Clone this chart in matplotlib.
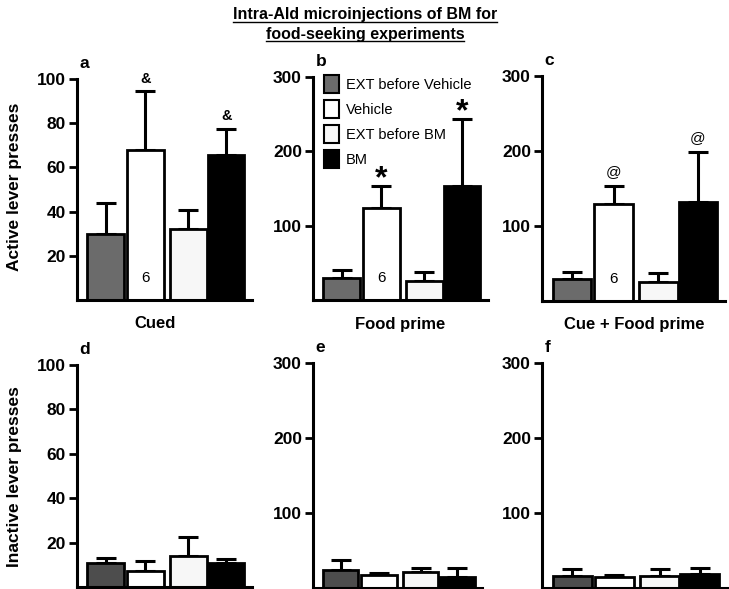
import numpy as np
import matplotlib
matplotlib.use("Agg")
import matplotlib.pyplot as plt
from matplotlib.lines import Line2D

plt.rcParams['font.family'] = ['Liberation Sans', 'DejaVu Sans']

groups = ['EXT before Vehicle', 'Vehicle', 'EXT before BM', 'BM']

# active lever presses (mean, SEM)
active_cued = [30, 68, 32, 65.5]
active_cued_sem = [14, 26.5, 8.5, 12]
active_food = [29, 124, 25, 154]
active_food_sem = [11, 30, 13, 89]
active_cuefood = [30, 130, 25, 132]
active_cuefood_sem = [9, 24, 12, 67]

# inactive lever presses (mean, SEM)
inactive_cued = [11, 7, 14, 11]
inactive_cued_sem = [2, 4.5, 8.5, 1.5]
inactive_food = [24, 17, 21, 15]
inactive_food_sem = [14, 3, 6, 12]
inactive_cuefood = [16, 15, 16, 19]
inactive_cuefood_sem = [9, 2, 9, 8]

conditions = ['Cued', 'Food prime', 'Cue + Food prime']
panel_letters = ['a', 'b', 'c', 'd', 'e', 'f']
marks_top = [['', '&', '', '&'], ['', '*', '', '*'], ['', '@', '', '@']]
n_label = '6'

colors_top = ['#6b6b6b', 'white', '#f7f7f7', 'black']
colors_bot = ['#4d4d4d', 'white', '#f7f7f7', 'black']
xpos = np.array([0.72, 1.72, 2.8, 3.75])
width = 0.92

W, H = 729, 589
fig = plt.figure(figsize=(W / 100, H / 100), dpi=100)


def px_axes(left, right, top, bottom):
    return fig.add_axes([left / W, 1 - bottom / H, (right - left) / W, (bottom - top) / H])


boxes = [(77, 252, 79, 300), (313, 488, 77, 300), (542, 725, 76, 301),
         (77, 252, 365, 587), (313, 482, 363, 588), (542, 727, 363, 588)]
data = [(active_cued, active_cued_sem), (active_food, active_food_sem),
        (active_cuefood, active_cuefood_sem),
        (inactive_cued, inactive_cued_sem), (inactive_food, inactive_food_sem),
        (inactive_cuefood, inactive_cuefood_sem)]
xlabel_px = [155, 400, 634]

axes = []
for i, (box, (vals, sem)) in enumerate(zip(boxes, data)):
    ax = px_axes(*box)
    axes.append(ax)
    cols = colors_top if i < 3 else colors_bot
    ax.errorbar(xpos, vals, yerr=[np.zeros(4), sem], fmt='none', ecolor='black',
                elinewidth=2.2, capsize=7.5, capthick=2.2, zorder=1)
    bars = ax.bar(xpos, vals, width=width, color=cols, edgecolor='black',
                  linewidth=2.0, zorder=2)
    for b, g in zip(bars, groups):
        b.set_label(g)
    ymax = 100 if i % 3 == 0 else 300
    ax.set_ylim(0, ymax)
    ax.set_xlim(0, 4.4)
    if ymax == 100:
        ax.set_yticks([20, 40, 60, 80, 100])
    else:
        ax.set_yticks([100, 200, 300])
    ax.set_xticks([])
    for s in ['top', 'right']:
        ax.spines[s].set_visible(False)
    for s in ['left', 'bottom']:
        ax.spines[s].set_linewidth(2.2)
    ax.tick_params(axis='y', direction='out', length=6, width=2, labelsize=12.5, pad=2)
    for lab in ax.get_yticklabels():
        lab.set_fontweight('bold')
    ax.annotate(panel_letters[i], (0.015, 1.0), xycoords='axes fraction',
                xytext=(0, 6), textcoords='offset points', fontsize=12.5,
                fontweight='bold', ha='left', va='bottom')
    if i < 3:
        ax.text(xpos[1], 0.1 * ymax, n_label, ha='center', va='center', fontsize=11)
        for x, v, e, m in zip(xpos, vals, sem, marks_top[i]):
            if not m:
                continue
            if m == '*':
                ax.annotate(m, (x, v + e), xytext=(0, -6), textcoords='offset points',
                            ha='center', va='bottom', fontsize=23, fontweight='bold')
            elif m == '&':
                ax.annotate(m, (x, v + e), xytext=(0, 4), textcoords='offset points',
                            ha='center', va='bottom', fontsize=10.5, fontweight='bold')
            else:
                ax.annotate(m, (x, v + e), xytext=(0, 5), textcoords='offset points',
                            ha='center', va='bottom', fontsize=11)
        fig.text(xlabel_px[i] / W, 1 - 324 / H, conditions[i], ha='center', va='center',
                 fontsize=12, fontweight='bold')

leg = axes[1].legend(loc='upper left', bbox_to_anchor=(0.03, 1.035), frameon=False,
                     fontsize=10.5, handlelength=1.0, handleheight=1.5,
                     handletextpad=0.5, labelspacing=0.5, borderaxespad=0)
for h in leg.legend_handles:
    h.set_linewidth(1.5)

fig.text(15 / W, 1 - 187 / H, 'Active lever presses', rotation=90, ha='center',
         va='center', fontsize=12.5, fontweight='bold')
fig.text(15 / W, 1 - 477 / H, 'Inactive lever presses', rotation=90, ha='center',
         va='center', fontsize=12.5, fontweight='bold')

t1 = fig.text(365 / W, 1 - 15 / H, 'Intra-Ald microinjections of BM for', ha='center',
              va='center', fontsize=11.5, fontweight='bold')
t2 = fig.text(365 / W, 1 - 34 / H, 'food-seeking experiments', ha='center',
              va='center', fontsize=11.5, fontweight='bold')

# underline the title lines
fig.canvas.draw()
r = fig.canvas.get_renderer()
for t in (t1, t2):
    bb = t.get_window_extent(r)
    y = bb.y0 + 1
    fig.add_artist(Line2D([bb.x0 / W, bb.x1 / W], [y / H, y / H], color='black',
                          linewidth=1.0, transform=fig.transFigure))

fig.savefig('out.png', dpi=100)
